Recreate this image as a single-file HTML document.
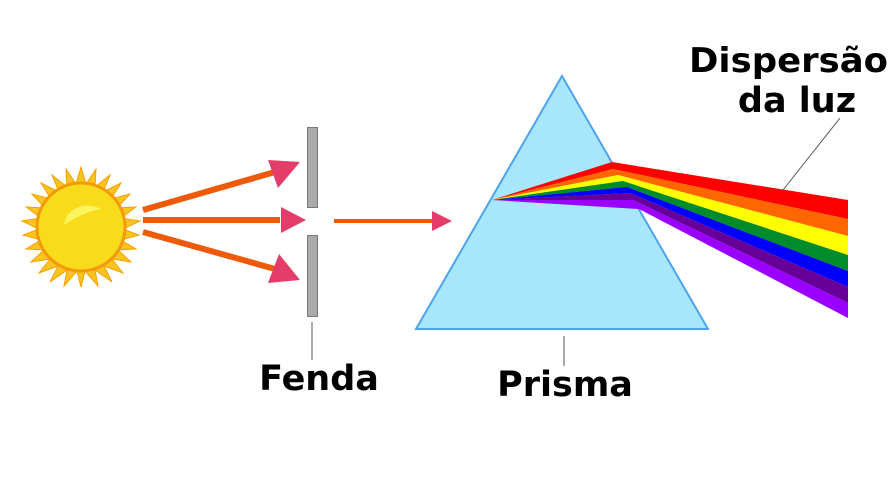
<!DOCTYPE html>
<html><head><style>html,body{margin:0;padding:0;background:#fff}svg{display:block}</style></head><body>
<svg width="896" height="480" viewBox="0 0 896 480" xmlns="http://www.w3.org/2000/svg">
<!-- sun -->
<g transform="translate(81,227)">
<polygon fill="#fbc41e" stroke="#f5a000" stroke-width="1" points="
0,-60 5,-43 15,-58 14,-40 29,-52 22,-35 40,-44 30,-28 49,-33 36,-19 55,-20 40,-9 59,-6 42,2 58,8 40,13 55,22 37,23 50,35 31,32 42,46 23,39 31,55 14,43 17,59 4,44 0,60 -4,44 -17,59 -14,43 -31,55 -23,39 -42,46 -31,32 -50,35 -37,23 -55,22 -40,13 -58,8 -42,2 -59,-6 -40,-9 -55,-20 -36,-19 -49,-33 -30,-28 -40,-44 -22,-35 -29,-52 -14,-40 -15,-58 -5,-43"/>
<circle r="44" fill="#f8dc1c" stroke="#f39a0a" stroke-width="3"/>
<path d="M-17,-2 C-14,-20 5,-26 20,-18 C8,-16 -5,-10 -17,-2Z" fill="#fbf560"/>
</g>
<!-- slit -->
<rect x="307.5" y="127.5" width="10" height="80" fill="#aaa" stroke="#777"/>
<rect x="307.5" y="235.5" width="10" height="81" fill="#aaa" stroke="#777"/>
<line x1="312" y1="322" x2="312" y2="360" stroke="#555" stroke-width="1"/>
<!-- arrows -->
<g stroke="#ee5a0a" stroke-width="6">
<line x1="143" y1="210" x2="275" y2="172"/>
<line x1="143" y1="220" x2="280" y2="220"/>
<line x1="143" y1="232" x2="275" y2="269"/>
</g>
<polygon points="300,162 268,160 278,188" fill="#e43d6a"/>
<polygon points="306,220 281,207 281,233" fill="#e43d6a"/>
<polygon points="300,280 268,283 279,254" fill="#e43d6a"/>
<line x1="334" y1="221" x2="432" y2="221" stroke="#ee5a0a" stroke-width="4"/>
<polygon points="452,221 432,211 432,231" fill="#e43d6a"/>
<!-- prism -->
<polygon points="562,76 416,329 708,329" fill="#a8e6fb" stroke="#4da3ec" stroke-width="2"/>
<line x1="564" y1="336" x2="564" y2="366" stroke="#555"/>
<!-- rainbow -->
<g>
<polygon points="492,200 612,162 848,200 848,219 613,169" fill="#ff0000"/>
<polygon points="492,200 613,169 848,219 848,236 618,175" fill="#ff6600"/>
<polygon points="492,200 618,175 848,236 848,255 623,181" fill="#ffff00"/>
<polygon points="492,200 623,181 848,255 848,271 627,187" fill="#008c2a"/>
<polygon points="492,200 627,187 848,271 848,287 630,193" fill="#0000ff"/>
<polygon points="492,200 630,193 848,287 848,303 633,200" fill="#660099"/>
<polygon points="492,200 633,200 848,303 848,318 639,209" fill="#9900ff"/>
</g>
<line x1="783" y1="190" x2="840" y2="118" stroke="#555"/>
<g font-family="'DejaVu Sans','Liberation Sans',sans-serif" font-weight="bold" fill="#000">
<text x="319" y="390" font-size="35" text-anchor="middle">Fenda</text>
<text x="565" y="396" font-size="35" text-anchor="middle">Prisma</text>
<text x="689" y="72" font-size="34" textLength="199" lengthAdjust="spacingAndGlyphs">Dispersão</text>
<text x="797" y="112" font-size="35" text-anchor="middle">da luz</text>
</g>
</svg>
</body></html>
